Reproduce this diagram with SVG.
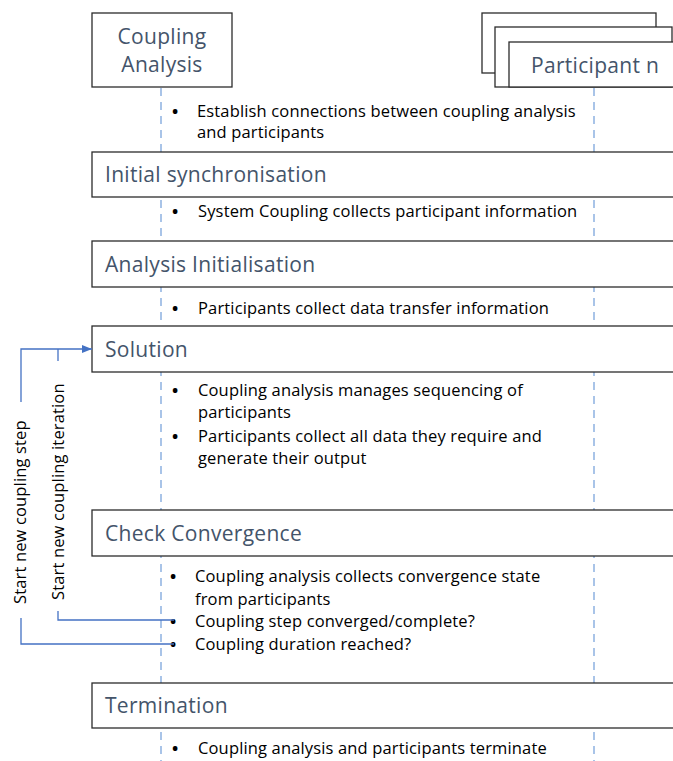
<svg xmlns="http://www.w3.org/2000/svg" width="673" height="761" viewBox="0 0 673 761">
  <style>
    .box { fill: #ffffff; stroke: #2b2b2b; stroke-width: 1.3; }
    .life { stroke: #a9c4e8; stroke-width: 2; stroke-dasharray: 8 6; fill: none; }
    .title { font-family: "Open Sans", "Liberation Sans", sans-serif; font-size: 21px; letter-spacing: 0.3px; fill: #44546a; }
    .item { font-family: "Open Sans", "Liberation Sans", sans-serif; font-size: 16.5px; letter-spacing: 0.15px; fill: #000000; }
    .dot { font-family: "Open Sans", "Liberation Sans", sans-serif; font-size: 16.5px; font-weight: 700; fill: #000000; }
    .label { font-family: "Open Sans", "Liberation Sans", sans-serif; font-size: 16.5px; letter-spacing: 0.15px; fill: #000000; }
    .flow { stroke: #4472c4; stroke-width: 1.3; fill: none; }
  </style>
  <defs>
    <marker id="arrow" markerWidth="10" markerHeight="8" refX="10" refY="4" orient="auto" markerUnits="userSpaceOnUse">
      <path d="M0,0 L10,4 L0,8 Z" fill="#4472c4"/>
    </marker>
  </defs>

  <rect width="673" height="761" fill="#ffffff"/>

  <!-- lifelines -->
  <g id="lifelines">
    <line class="life" x1="161" y1="88" x2="161" y2="761"/>
    <line class="life" x1="594" y1="88" x2="594" y2="761"/>
  </g>

  <!-- participants -->
  <g id="coupling-analysis">
    <rect class="box" x="92" y="13" width="140" height="74"/>
    <text class="title" x="162" y="44" text-anchor="middle">Coupling</text>
    <text class="title" x="162" y="72" text-anchor="middle">Analysis</text>
  </g>
  <g id="participant-n">
    <rect class="box" x="482" y="13" width="174" height="60"/>
    <rect class="box" x="495" y="27" width="177" height="60"/>
    <rect class="box" x="509" y="42" width="180" height="45"/>
    <text class="title" x="531" y="73">Participant n</text>
  </g>

  <g id="note-connect">
    <text class="dot" x="172" y="117">•</text>
    <text class="item" x="197" y="117">Establish connections between coupling analysis</text>
    <text class="item" x="197" y="138">and participants</text>
  </g>

  <g id="initial-synchronisation">
    <rect class="box" x="92" y="152" width="600" height="45"/>
    <text class="title" x="105" y="182">Initial synchronisation</text>
  </g>
  <g id="note-sync">
    <text class="dot" x="172" y="217">•</text>
    <text class="item" x="198" y="217">System Coupling collects participant information</text>
  </g>

  <g id="analysis-initialisation">
    <rect class="box" x="92" y="241" width="600" height="46"/>
    <text class="title" x="105" y="272">Analysis Initialisation</text>
  </g>
  <g id="note-init">
    <text class="dot" x="172" y="314">•</text>
    <text class="item" x="198" y="314">Participants collect data transfer information</text>
  </g>

  <g id="solution">
    <rect class="box" x="92" y="326" width="600" height="46"/>
    <text class="title" x="105" y="357">Solution</text>
  </g>
  <g id="note-solution">
    <text class="dot" x="172" y="396">•</text>
    <text class="item" x="198" y="396">Coupling analysis manages sequencing of</text>
    <text class="item" x="198" y="418">participants</text>
    <text class="dot" x="172" y="442">•</text>
    <text class="item" x="198" y="442">Participants collect all data they require and</text>
    <text class="item" x="198" y="464">generate their output</text>
  </g>

  <g id="check-convergence">
    <rect class="box" x="92" y="510" width="600" height="46"/>
    <text class="title" x="105" y="541">Check Convergence</text>
  </g>
  <g id="note-convergence">
    <text class="dot" x="170" y="582">•</text>
    <text class="item" x="195" y="582">Coupling analysis collects convergence state</text>
    <text class="item" x="195" y="605">from participants</text>
    <text class="dot" x="170" y="627">•</text>
    <text class="item" x="195" y="627">Coupling step converged/complete?</text>
    <text class="dot" x="170" y="650">•</text>
    <text class="item" x="195" y="650">Coupling duration reached?</text>
  </g>

  <g id="termination">
    <rect class="box" x="92" y="683" width="600" height="45"/>
    <text class="title" x="105" y="713">Termination</text>
  </g>
  <g id="note-termination">
    <text class="dot" x="172" y="754">•</text>
    <text class="item" x="198" y="754">Coupling analysis and participants terminate</text>
  </g>

  <!-- loop-back connectors -->
  <g id="connectors">
    <path class="flow" d="M174,644 H21 V618"/>
    <path class="flow" d="M21,402 V349 H92" marker-end="url(#arrow)"/>
    <path class="flow" d="M174,620 H58 V611"/>
    <path class="flow" d="M58,361 V349"/>
    <text class="label" transform="translate(26,604) rotate(-90)">Start new coupling step</text>
    <text class="label" transform="translate(64,600) rotate(-90)">Start new coupling iteration</text>
  </g>
</svg>
